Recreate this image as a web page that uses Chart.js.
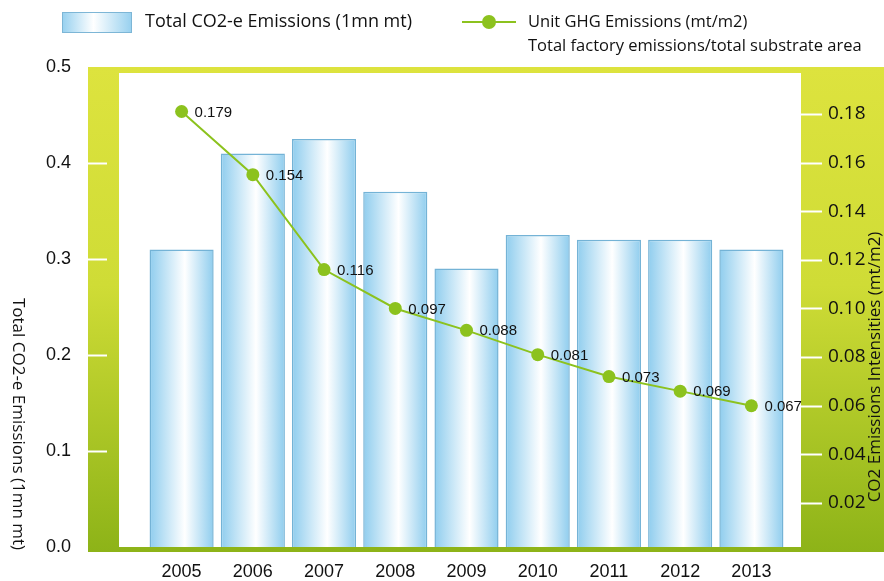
<!DOCTYPE html>
<html>
<head>
<meta charset="utf-8">
<script src="https://cdn.jsdelivr.net/npm/chart.js@4.4.1/dist/chart.umd.min.js"></script>
<style>
  html, body { margin: 0; padding: 0; background: #fff; }
  #wrap { width: 884px; height: 581px; }
</style>
</head>
<body>
<div id="wrap"><canvas id="c" width="884" height="581"></canvas></div>
<script>
/* Emissions combo chart: cylinder-ish bars on the left axis, intensity line on
   the right one, all inside a yellow-green frame drawn by a small plugin. */

const years = ['2005', '2006', '2007', '2008', '2009', '2010', '2011', '2012', '2013'];
const totalEmissions = [0.31, 0.41, 0.425, 0.37, 0.29, 0.325, 0.32, 0.32, 0.31];
const unitEmissions = [0.181, 0.155, 0.116, 0.100, 0.091, 0.081, 0.072, 0.066, 0.060];
const unitLabels = ['0.179', '0.154', '0.116', '0.097', '0.088', '0.081', '0.073', '0.069', '0.067'];
const leftTicks = [0, 0.1, 0.2, 0.3, 0.4, 0.5];
const rightTicks = [0.02, 0.04, 0.06, 0.08, 0.10, 0.12, 0.14, 0.16, 0.18];

const ARIAL = '"Liberation Sans", Arial, sans-serif';
const SEGOE = '"Open Sans", "Noto Sans", sans-serif';
const LINE_GREEN = '#8cc21e';

function barFill(ctx) {
  const chart = ctx.chart;
  const x = chart.scales.x;
  if (!chart.chartArea || !x) return '#bfe3f6';
  const cx = x.getPixelForValue(ctx.dataIndex);
  const w = (x.width / years.length) * 0.9;
  const g = chart.ctx.createLinearGradient(cx - w / 2, 0, cx + w / 2, 0);
  g.addColorStop(0, '#8fcdee');
  g.addColorStop(0.55, '#ffffff');
  g.addColorStop(1, '#8fcdee');
  return g;
}

// fixed axis boxes so the plot lands where the original sits
function fixY(width) {
  return s => { s.width = width; s.paddingTop = 0; s.paddingBottom = 0; };
}

const framePlugin = {
  id: 'frame',
  beforeDraw(chart) {
    const { ctx, chartArea: a } = chart;
    ctx.save();
    const g = ctx.createLinearGradient(0, a.top, 0, a.bottom + 5);
    g.addColorStop(0, '#dde33e');
    g.addColorStop(0.45, '#cfdc36');
    g.addColorStop(1, '#8db318');
    ctx.fillStyle = g;
    ctx.fillRect(a.left - 58, a.top, chart.width - (a.left - 58), a.bottom + 5 - a.top);
    ctx.fillStyle = '#fff';
    ctx.fillRect(a.left - 27, a.top + 6, (a.right + 14) - (a.left - 27), a.bottom - a.top - 6);
    ctx.restore();
  },
  afterDraw(chart) {
    const { ctx, chartArea: a, scales } = chart;
    ctx.save();
    ctx.strokeStyle = '#fff';
    ctx.lineWidth = 2;
    leftTicks.slice(1, -1).forEach(v => {
      const y = Math.round(scales.y.getPixelForValue(v)) + 0.5;
      ctx.beginPath(); ctx.moveTo(a.left - 58, y); ctx.lineTo(a.left - 39, y); ctx.stroke();
    });
    rightTicks.forEach(v => {
      const y = Math.round(scales.y1.getPixelForValue(v)) + 0.5;
      ctx.beginPath(); ctx.moveTo(a.right + 14, y); ctx.lineTo(a.right + 35, y); ctx.stroke();
    });

    // axis titles (left reads top-down, right reads bottom-up)
    ctx.fillStyle = '#111';
    ctx.font = '17px ' + SEGOE;
    ctx.textAlign = 'center';
    ctx.textBaseline = 'middle';
    ctx.save();
    ctx.translate(18, 424);
    ctx.rotate(Math.PI / 2);
    ctx.fillText('Total CO2-e Emissions (1mn mt)', 0, 0);
    ctx.restore();
    ctx.save();
    ctx.translate(875, 367);
    ctx.rotate(-Math.PI / 2);
    ctx.fillText('CO2 Emissions Intensities (mt/m2)', 0, 0);
    ctx.restore();

    // legend
    const sg = ctx.createLinearGradient(62, 0, 132, 0);
    sg.addColorStop(0, '#96d0ef');
    sg.addColorStop(0.45, '#ffffff');
    sg.addColorStop(1, '#96d0ef');
    ctx.fillStyle = sg;
    ctx.fillRect(62, 12, 70, 21);
    ctx.strokeStyle = '#7db6d6';
    ctx.lineWidth = 1;
    ctx.strokeRect(62.5, 12.5, 69, 20);
    ctx.strokeStyle = LINE_GREEN;
    ctx.lineWidth = 2;
    ctx.beginPath(); ctx.moveTo(462, 22); ctx.lineTo(516, 22); ctx.stroke();
    ctx.fillStyle = LINE_GREEN;
    ctx.beginPath(); ctx.arc(489, 22, 7, 0, Math.PI * 2); ctx.fill();
    ctx.fillStyle = '#111';
    ctx.textAlign = 'left';
    ctx.font = '18px ' + SEGOE;
    ctx.fillText('Total CO2-e Emissions (1mn mt)', 145, 22);
    ctx.font = '16.5px ' + SEGOE;
    ctx.fillText('Unit GHG Emissions (mt/m2)', 528, 22);
    ctx.fillText('Total factory emissions/total substrate area', 528, 46);
    ctx.restore();
  }
};

const pointLabels = {
  id: 'pointLabels',
  afterDatasetsDraw(chart) {
    const meta = chart.getDatasetMeta(0);
    const ctx = chart.ctx;
    ctx.save();
    ctx.fillStyle = '#111';
    ctx.font = '15px ' + ARIAL;
    ctx.textAlign = 'left';
    ctx.textBaseline = 'middle';
    meta.data.forEach((pt, i) => ctx.fillText(unitLabels[i], pt.x + 13, pt.y + 1));
    ctx.restore();
  }
};

function build() {
  new Chart(document.getElementById('c'), {
    type: 'bar',
    data: {
      labels: years,
      datasets: [
        {
          type: 'line',
          data: unitEmissions,
          yAxisID: 'y1',
          borderColor: LINE_GREEN,
          borderWidth: 2,
          pointRadius: 6.5,
          pointBackgroundColor: LINE_GREEN,
          pointBorderWidth: 0,
          tension: 0,
        },
        {
          type: 'bar',
          data: totalEmissions,
          yAxisID: 'y',
          backgroundColor: barFill,
          borderColor: '#74b3d6',
          borderWidth: 1.5,
          categoryPercentage: 1,
          barPercentage: 0.9,
        },
      ],
    },
    options: {
      responsive: false,
      animation: false,
      layout: { padding: { top: 67, left: 0, right: 0, bottom: 0 } },
      plugins: { legend: { display: false }, tooltip: { enabled: false } },
      scales: {
        x: {
          grid: { display: false, drawTicks: false },
          border: { display: false },
          ticks: { color: '#111', font: { family: ARIAL, size: 18 }, padding: 14 },
          afterFit: s => { s.height = 34; s.paddingLeft = 0; s.paddingRight = 0; },
        },
        y: {
          position: 'left',
          min: 0, max: 0.5,
          grid: { display: false, drawTicks: false },
          border: { display: false },
          ticks: { color: '#111', font: { family: ARIAL, size: 18 }, padding: 75,
                   callback: v => v.toFixed(1) },
          afterBuildTicks: s => { s.ticks = leftTicks.map(v => ({ value: v })); },
          afterFit: fixY(146),
        },
        y1: {
          position: 'right',
          min: 0.0019, max: 0.1993,
          grid: { display: false, drawTicks: false },
          border: { display: false },
          ticks: { color: '#111', font: { family: SEGOE, size: 19 }, padding: 41,
                   callback: v => v.toFixed(2) },
          afterBuildTicks: s => { s.ticks = rightTicks.map(v => ({ value: v })); },
          afterFit: fixY(97),
        },
      },
    },
    plugins: [framePlugin, pointLabels],
  });
}

Promise.all([
  document.fonts.load('16px "Open Sans"'),
  document.fonts.load('16px "Liberation Sans"'),
]).then(build, build);
</script>
</body>
</html>
